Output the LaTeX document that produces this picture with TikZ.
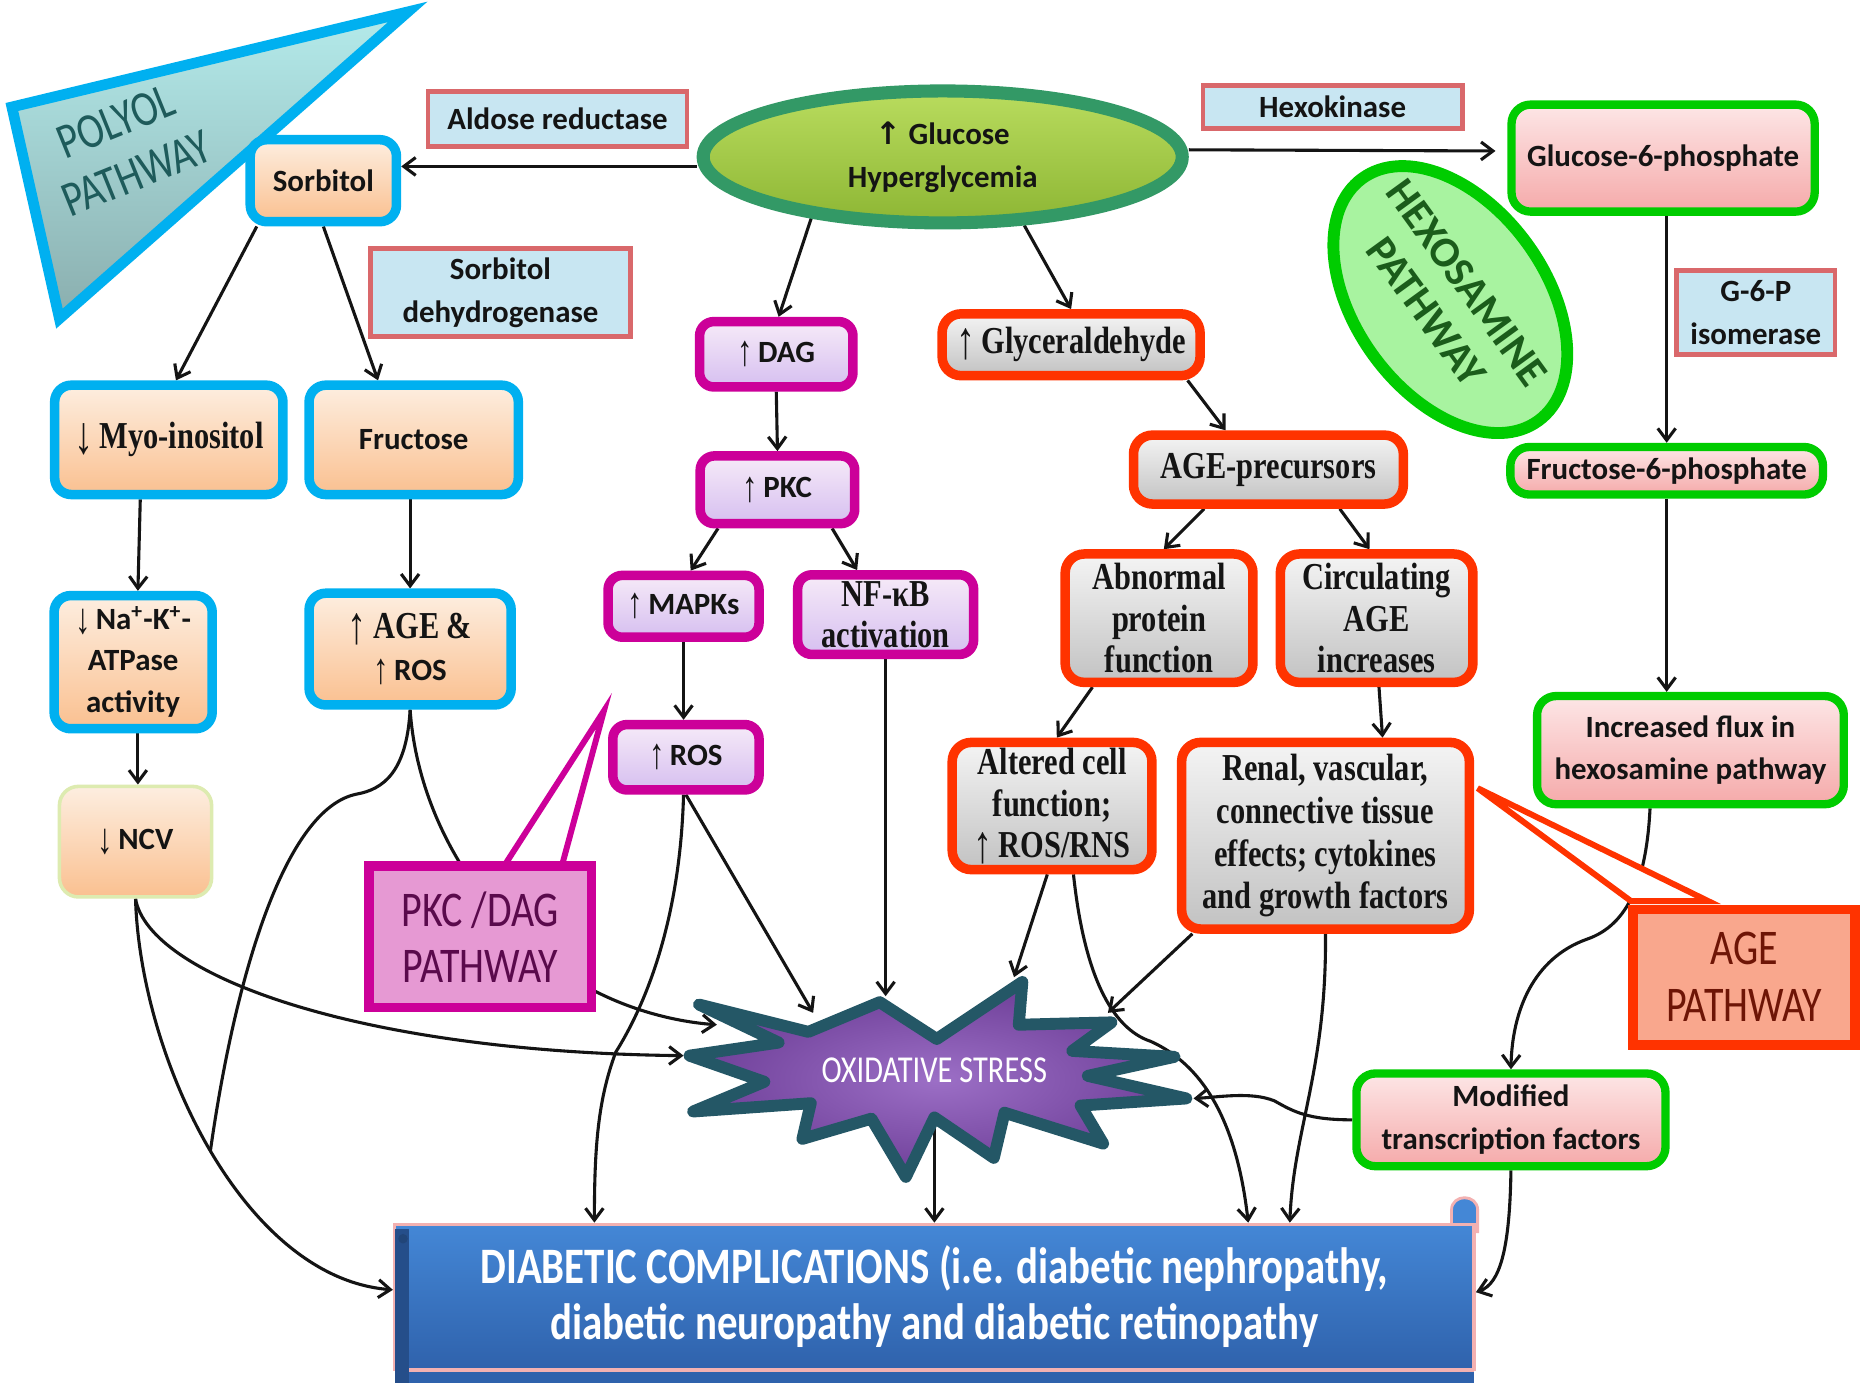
\documentclass[tikz,border=0pt]{standalone}
\usepackage{fontspec}
\setmainfont{Carlito}
\newfontfamily\serifc[FakeStretch=0.8]{Liberation Serif}
\newfontfamily\condf[FakeStretch=0.8]{Carlito}
\newfontfamily\arrf{Liberation Serif}
\newfontfamily\djv{DejaVu Sans}
\usetikzlibrary{shapes.geometric,arrows.meta,calc}
\pgfdeclarelayer{bg}
\pgfsetlayers{bg,main}
\newcommand{\ua}{\raisebox{-0.12em}{\scalebox{1}[1.4]{\arrf ↑}}}
\newcommand{\da}{\raisebox{-0.12em}{\scalebox{1}[1.4]{\arrf ↓}}}
\newcommand{\uab}{{\djv\bfseries ↑}}

\definecolor{ink}{HTML}{141414}
\definecolor{cyanb}{HTML}{00B0F0}
\definecolor{orA}{HTML}{FDEEE0}
\definecolor{orB}{HTML}{FAC090}
\definecolor{enzF}{HTML}{C8E6F2}
\definecolor{enzB}{HTML}{D9686B}
\definecolor{purB}{HTML}{CC0099}
\definecolor{purA}{HTML}{F6EAF8}
\definecolor{purC}{HTML}{D6BFF0}
\definecolor{redB}{HTML}{FF3300}
\definecolor{grA}{HTML}{F4F4F4}
\definecolor{grB}{HTML}{C2C2C2}
\definecolor{grnB}{HTML}{00CC00}
\definecolor{pkA}{HTML}{FDE6E6}
\definecolor{pkB}{HTML}{F5AAAA}
\definecolor{glA}{HTML}{B9DC5E}
\definecolor{glB}{HTML}{8DB634}
\definecolor{glD}{HTML}{339966}
\definecolor{hexF}{HTML}{A8F3A0}
\definecolor{hexT}{HTML}{1B5C1B}
\definecolor{polA}{HTML}{B4EBEB}
\definecolor{polB}{HTML}{8AAEAE}
\definecolor{polT}{HTML}{1E5B5B}
\definecolor{pkcF}{HTML}{E699D3}
\definecolor{pkcT}{HTML}{5A0A4C}
\definecolor{ageF}{HTML}{F9A78D}
\definecolor{ageT}{HTML}{6E1506}
\definecolor{stA}{HTML}{9C6FC6}
\definecolor{stB}{HTML}{6E3F98}
\definecolor{stD}{HTML}{245766}
\definecolor{diA}{HTML}{4487D6}
\definecolor{diB}{HTML}{2F62AC}
\definecolor{diG}{HTML}{F3B1B1}
\definecolor{ncvB}{HTML}{DDEBB0}

\tikzset{
  every node/.append style={inner sep=0pt},
  sz/.style 2 args={minimum width=#1*0.5pt, minimum height=#2*0.5pt},
  txtsans/.style={font=\bfseries\fontsize{13}{18}\selectfont, text=ink, align=center},
  txtserif/.style={font=\serifc\bfseries\fontsize{16}{17.5}\selectfont, text=ink, align=center},
  polbox/.style={rounded corners=7pt, draw=cyanb, line width=4pt, top color=orA, bottom color=orB, txtsans},
  enz/.style={draw=enzB, line width=2pt, fill=enzF, txtsans},
  pkbox/.style={rounded corners=6pt, draw=purB, line width=4pt, top color=purA, bottom color=purC, txtsans},
  agebox/.style={rounded corners=8pt, draw=redB, line width=4pt, top color=grA, bottom color=grB, txtserif},
  hexbox/.style={rounded corners=8pt, draw=grnB, line width=3.5pt, top color=pkA, bottom color=pkB, txtsans},
  bigtag/.style={font=\condf\fontsize{21}{23.5}\selectfont, align=center},
  conn/.style={line width=1.3pt, draw=ink, -{Straight Barb[length=5pt,width=7.5pt]}},
  link/.style={line width=1.3pt, draw=ink},
}

\begin{document}
\begin{tikzpicture}[x=0.5pt,y=-0.5pt]
\useasboundingbox (0,0) rectangle (1568,1163);

% polyol pathway banner
\draw[line width=4.5pt, draw=cyanb, top color=polA, bottom color=polB, line join=miter]
  (10,90) -- (343,10) -- (50,268) -- cycle;
\node[bigtag, text=polT, rotate=22] (polyol) at (106,124) {POLYOL\\PATHWAY};

% glucose source
\node[ellipse, draw=glD, line width=5.5pt, top color=glA, bottom color=glB,
      minimum width=201.5pt, minimum height=55.5pt, txtsans] (gluc) at (793,132)
      {\uab\ Glucose\\Hyperglycemia};

% polyol branch
\node[enz, sz={218}{46}] (aldose) at (469,100) {Aldose reductase};
\node[polbox, sz={123}{69}] (sorb) at (272,152) {Sorbitol};
\node[enz, sz={219}{74}] (sdh) at (421,246) {Sorbitol\\dehydrogenase};
\node[polbox, sz={192}{92}, txtserif] (myo) at (142,370) {\da\,Myo-inositol};
\node[polbox, sz={176}{92}] (fruc) at (348,370) {Fructose};
\node[polbox, sz={133}{112}, font=\bfseries\fontsize{13}{17.5}\selectfont] (nak) at (112,557)
  {\da\,Na\textsuperscript{+}-K\textsuperscript{+}-\\ATPase\\activity};
\node[polbox, sz={170}{94}, font=\bfseries\fontsize{13}{17.5}\selectfont] (ageros) at (345,546)
  {{\serifc\fontsize{16}{17.5}\selectfont\ua\,AGE \&}\\\ua\,ROS};
\node[rounded corners=8pt, draw=ncvB, line width=1.5pt, top color=orA, bottom color=orB,
      sz={128}{93}, txtsans] (ncv) at (114,708) {\da\,NCV};

% PKC / DAG branch
\node[pkbox, sz={129}{55}] (dag) at (653,298) {\ua\,DAG};
\node[pkbox, sz={130}{57}] (pkc) at (654,412) {\ua\,PKC};
\node[pkbox, sz={127}{52}] (mapk) at (575,510) {\ua\,MAPKs};
\node[pkbox, sz={148}{67}, txtserif] (nfkb) at (745,517) {NF-κB\\activation};
\node[pkbox, sz={123}{55}] (ros) at (577,637) {\ua\,ROS};
\draw[draw=purB, line width=2.5pt, fill=white, line join=miter] (508,598) -- (425,727) -- (473,727) -- cycle;
\node[draw=purB, line width=4pt, fill=pkcF, sz={187}{119}, bigtag, text=pkcT] (pkcpath) at (404,788)
  {PKC /DAG\\PATHWAY};

% AGE branch
\node[agebox, sz={217}{52}] (glyc) at (901,290) {\ua\,Glyceraldehyde};
\node[agebox, sz={227}{58}] (ageprec) at (1067,395) {AGE-precursors};
\node[agebox, sz={158}{108}] (abn) at (975,520) {Abnormal\\protein\\function};
\node[agebox, sz={162}{108}] (circ) at (1158,520) {Circulating\\AGE\\increases};
\node[agebox, sz={168}{107}] (alt) at (885,678) {Altered cell\\function;\\\ua\,ROS/RNS};
\node[agebox, sz={242}{157}, font=\serifc\bfseries\fontsize{16}{18}\selectfont] (renal) at (1115,703)
  {Renal, vascular,\\connective tissue\\effects; cytokines\\and growth factors};
\draw[draw=redB, line width=2.5pt, fill=white, line join=miter] (1243,663) -- (1372,758) -- (1437,758) -- cycle;
\node[draw=redB, line width=4pt, fill=ageF, sz={187}{114}, bigtag, text=ageT,
      font=\condf\fontsize{21}{24}\selectfont] (agepath) at (1467,822) {AGE\\PATHWAY};

% hexosamine branch
\node[enz, sz={218}{36}] (hexo) at (1121,90) {Hexokinase};
\node[hexbox, sz={255}{90}] (g6p) at (1399,133) {Glucose-6-phosphate};
\node[ellipse, draw=grnB, line width=5pt, fill=hexF, rotate=-54,
      minimum width=126pt, minimum height=80pt] (hexpath) at (1220,252) {};
\node[rotate=-54, align=center, text=hexT, font=\bfseries\fontsize{18}{21}\selectfont]
  (hextxt) at ([xshift=-1.5pt,yshift=1pt]hexpath.center) {HEXOSAMINE\\PATHWAY};
\node[enz, sz={133}{71}] (g6pi) at (1477,263) {G-6-P\\isomerase};
\node[hexbox, sz={263}{40}] (f6p) at (1402,396) {Fructose-6-phosphate};
\node[hexbox, sz={258}{91}] (flux) at (1422,631) {Increased flux in\\hexosamine pathway};
\node[hexbox, sz={260}{78}] (modtf) at (1271,942) {Modified\\transcription factors};

% oxidative stress burst
\draw[line width=5pt, draw=stD, inner color=stA, outer color=stB, line join=round]
  (588,845) -- (680,868) -- (740,843) -- (788,874) -- (860,826) -- (857,862) --
  (935,860) -- (902,884) -- (988,889) -- (915,905) -- (998,924) -- (909,930) --
  (928,962) -- (845,936) -- (836,974) -- (786,940) -- (762,990) -- (733,941) --
  (675,958) -- (682,928) -- (583,935) -- (643,910) -- (580,888) -- (655,877) -- cycle;
\node[text=white, font=\condf\fontsize{16}{18}\selectfont] (ox) at (786,900) {OXIDATIVE STRESS};
\coordinate (oxL) at (575,888);
\coordinate (oxUL) at (603,862);
\coordinate (oxR) at (684,852);
\coordinate (oxNF) at (745,838);
\coordinate (oxAlt) at (853,822);
\coordinate (oxRen) at (932,852);
\coordinate (oxRt) at (1004,924);

% diabetic complications scroll
\draw[draw=diG, line width=1.2pt, fill=diA] (1221,1036) -- (1221,1018) .. controls (1221,1004) and (1243,1004) .. (1243,1018) -- (1243,1036) -- cycle;
\node[draw=diG, line width=1.5pt, top color=diA, bottom color=diB, sz={908}{122},
      text=white, font=\condf\bfseries\fontsize{21.5}{23.5}\selectfont, align=center] (diab) at (786,1091)
  {DIABETIC COMPLICATIONS (i.e. diabetic nephropathy,\\diabetic neuropathy and diabetic retinopathy};
\fill[diB!80!black] (332,1034) rectangle (344,1163);
\fill[diB!70!black] (339,1042) circle (4);
\fill[diB] (344,1153) rectangle (1240,1163);
\draw[diG, line width=1pt] (344,1153) -- (1240,1153);

% connectors
\begin{pgfonlayer}{bg}
\fill[white] (0,0) rectangle (1568,1163);
\draw[conn] ([yshift=-4pt]gluc.west) -- ([yshift=6pt]sorb.east);
\draw[conn] ([yshift=3pt]gluc.east) -- ([xshift=-5pt,yshift=3pt]g6p.west);
\draw[conn] (gluc.-155) -- ([xshift=1pt]dag.north);
\draw[conn] (gluc.-40) -- (glyc.north);
\draw[conn] (dag.south) -- (pkc.north);
\draw[conn] ([xshift=-25pt]pkc.south) -- ([xshift=3pt]mapk.north);
\draw[conn] ([xshift=23pt]pkc.south) -- ([xshift=-12pt]nfkb.north);
\draw[conn] (mapk.south) -- ([xshift=-1pt]ros.north);
\draw[conn] (nfkb.south) -- (oxNF);
\draw[conn] (ros.south) -- (oxR);
\draw[conn] ([xshift=-1pt]ros.south) .. controls (572,780) and (540,850) .. (518,885)
  .. controls (503,925) and (500,965) .. ([xshift=-143pt]diab.north);
\draw[conn] ([xshift=49pt]glyc.south) -- ([xshift=-18pt]ageprec.north);
\draw[conn] ([xshift=-27pt]ageprec.south) -- ([xshift=2pt]abn.north);
\draw[conn] ([xshift=30pt]ageprec.south) -- ([xshift=-3pt]circ.north);
\draw[conn] ([xshift=-28pt]abn.south) -- ([xshift=2pt]alt.north);
\draw[conn] ([xshift=1pt]circ.south) -- ([xshift=24pt]renal.north);
\draw[conn] ([xshift=-2pt]alt.south) -- (oxAlt);
\draw[conn] ([xshift=9pt]alt.south) .. controls (912,820) and (935,865) .. (968,876)
  .. controls (1010,895) and (1040,940) .. ([xshift=132pt]diab.north);
\draw[conn] ([xshift=-56pt]renal.south) -- (oxRen);
\draw[conn] (renal.south) .. controls (1116,900) and (1088,950) .. ([xshift=149.5pt]diab.north);
\draw[conn] ([xshift=1.5pt]g6p.south) -- (f6p.north);
\draw[conn] (f6p.south) -- ([xshift=-10pt]flux.north);
\draw[conn] ([xshift=-17pt]flux.south) .. controls (1385,740) and (1370,778) .. (1335,790)
  .. controls (1290,806) and (1272,850) .. (modtf.north);
\draw[conn] (modtf.west) .. controls (1100,942) and (1088,935) .. (1072,926)
  .. controls (1052,918) and (1025,923) .. (oxRt);
\draw[conn] (modtf.south) .. controls (1270,1050) and (1262,1080) .. ([yshift=2pt]diab.east);
\draw[conn] (ox) -- (diab.north);
\draw[conn] ([xshift=-28pt]sorb.south) -- ([xshift=3pt]myo.north);
\draw[conn] (sorb.south) -- ([xshift=-15pt]fruc.north);
\draw[conn] ([xshift=-12pt]myo.south) -- ([xshift=2pt]nak.north);
\draw[conn] ([xshift=-1.5pt]fruc.south) -- (ageros.north);
\draw[conn] ([xshift=2pt]nak.south) -- ([xshift=1pt]ncv.north);
\draw[conn] (ncv.south) .. controls (125,820) and (300,885) .. (oxL);
\draw[conn] (ncv.south) .. controls (118,890) and (205,1075) .. ([yshift=3pt]diab.west);
\draw[link] (ageros.south) .. controls (342,650) and (322,664) .. (300,668)
  .. controls (240,680) and (198,820) .. (177,968);
\draw[conn] (ageros.south) .. controls (352,700) and (420,795) .. (505,836)
  .. controls (540,853) and (575,860) .. (oxUL);
\end{pgfonlayer}
\end{tikzpicture}
\end{document}
